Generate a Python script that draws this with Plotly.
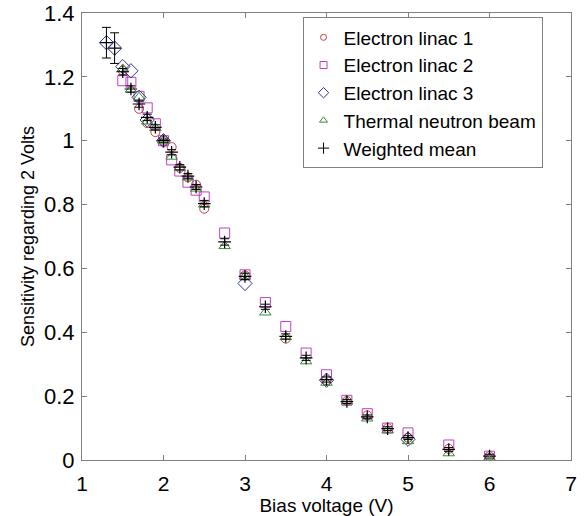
import plotly.graph_objects as go

# ---- data ----
x_lin1 = [1.5, 1.7, 1.8, 1.9, 2.0, 2.1, 2.2, 2.3, 2.4, 2.5, 3.0, 3.5, 4.0, 4.25, 4.5, 4.75, 5.0, 5.5, 6.0]
y_lin1 = [1.22, 1.10, 1.055, 1.027, 1.0, 0.98, 0.915, 0.885, 0.862, 0.787, 0.578, 0.38, 0.25, 0.185, 0.14, 0.10, 0.07, 0.035, 0.012]

x_lin2 = [1.5, 1.6, 1.7, 1.8, 1.9, 2.0, 2.1, 2.2, 2.3, 2.4, 2.5, 2.75, 3.0, 3.25, 3.5, 3.75, 4.0, 4.25, 4.5, 4.75, 5.0, 5.5, 6.0]
y_lin2 = [1.188, 1.183, 1.139, 1.103, 1.053, 1.0, 0.94, 0.905, 0.87, 0.845, 0.824, 0.711, 0.58, 0.493, 0.418, 0.335, 0.267, 0.187, 0.145, 0.10, 0.085, 0.047, 0.012]

x_lin3 = [1.3, 1.4, 1.5, 1.6, 1.7, 1.8, 2.0, 3.0, 4.0, 5.0]
y_lin3 = [1.307, 1.29, 1.232, 1.219, 1.136, 1.065, 1.0, 0.553, 0.25, 0.065]

x_therm = [1.5, 1.6, 1.7, 1.8, 1.9, 2.0, 2.1, 2.2, 2.3, 2.4, 2.5, 2.75, 3.0, 3.25, 3.5, 3.75, 4.0, 4.25, 4.5, 4.75, 5.0, 5.5, 6.0]
y_therm = [1.225, 1.16, 1.136, 1.06, 1.04, 1.0, 0.95, 0.915, 0.885, 0.85, 0.80, 0.67, 0.575, 0.462, 0.385, 0.309, 0.242, 0.183, 0.13, 0.093, 0.059, 0.021, 0.008]

x_mean = [1.3, 1.4, 1.5, 1.6, 1.7, 1.8, 1.9, 2.0, 2.1, 2.2, 2.3, 2.4, 2.5, 2.75, 3.0, 3.25, 3.5, 3.75, 4.0, 4.25, 4.5, 4.75, 5.0, 5.5, 6.0]
y_mean = [1.307, 1.29, 1.216, 1.162, 1.115, 1.073, 1.042, 1.0, 0.964, 0.917, 0.889, 0.855, 0.803, 0.683, 0.575, 0.48, 0.387, 0.32, 0.252, 0.183, 0.135, 0.098, 0.07, 0.033, 0.012]
err_mean = [0.048, 0.048, 0.01, 0.01, 0.01, 0.01, 0.008, 0.005, 0.008, 0.008, 0.008, 0.008, 0.01, 0.01, 0.01, 0.008, 0.008, 0.008, 0.008, 0.006, 0.006, 0.006, 0.006, 0.006, 0.006]

x_ticks = [1, 2, 3, 4, 5, 6, 7]
y_ticks = [0, 0.2, 0.4, 0.6, 0.8, 1.0, 1.2, 1.4]
y_ticklabels = ["0", "0.2", "0.4", "0.6", "0.8", "1", "1.2", "1.4"]

FONT = "Liberation Sans, Arial, sans-serif"

fig = go.Figure()

def add(name, xs, ys, symbol, color, size, legsize):
    # data marks
    fig.add_trace(go.Scatter(
        x=xs, y=ys, mode="markers", name=name, showlegend=False,
        marker=dict(symbol=symbol, size=size, color=color,
                    line=dict(color=color, width=1)),
    ))
    # legend entry (smaller symbol, as in the reference)
    fig.add_trace(go.Scatter(
        x=[None], y=[None], mode="markers", name=name, showlegend=True,
        marker=dict(symbol=symbol, size=legsize, color=color,
                    line=dict(color=color, width=1)),
    ))

add("Electron linac 1", x_lin1, y_lin1, "circle-open", "#c0404a", 9, 6)
add("Electron linac 2", x_lin2, y_lin2, "square-open", "#c040c0", 10, 7)
add("Electron linac 3", x_lin3, y_lin3, "diamond-open", "#303090", 11, 8)
add("Thermal neutron beam", x_therm, y_therm, "triangle-up-open", "#3a8a3a", 10, 7)

fig.add_trace(go.Scatter(
    x=x_mean, y=y_mean, mode="markers", name="Weighted mean", showlegend=False,
    marker=dict(symbol="cross-thin-open", size=9, color="black",
                line=dict(color="black", width=1.2)),
    error_y=dict(type="data", array=err_mean, visible=True,
                 color="black", thickness=1, width=4.5),
))
fig.add_trace(go.Scatter(
    x=[None], y=[None], mode="markers", name="Weighted mean", showlegend=True,
    marker=dict(symbol="cross-thin-open", size=8, color="black",
                line=dict(color="black", width=1)),
))

axis_common = dict(
    showgrid=False, zeroline=False, showline=True, linecolor="#808080",
    linewidth=1, mirror="ticks", ticks="inside", ticklen=5,
    tickcolor="#808080", automargin=False,
)

fig.update_layout(
    width=587, height=516,
    margin=dict(l=82, r=16, t=13, b=56),
    paper_bgcolor="white", plot_bgcolor="white",
    font=dict(family=FONT, color="black"),
    xaxis=dict(range=[1, 7], tickvals=x_ticks, ticklabelstandoff=5,
               tickfont=dict(family=FONT, size=21, color="black"),
               title=dict(text="Bias voltage (V)", font=dict(family=FONT, size=19), standoff=0),
               **axis_common),
    yaxis=dict(range=[0, 1.4], tickvals=y_ticks, ticktext=y_ticklabels, ticklabelstandoff=2,
               tickfont=dict(family=FONT, size=22, color="black"),
               title=dict(text="Sensitivity regarding 2 Volts", font=dict(family=FONT, size=18), standoff=4),
               **axis_common),
    legend=dict(x=0.451, y=0.99, xanchor="left", yanchor="top",
                bordercolor="#808080", borderwidth=1, bgcolor="white",
                font=dict(family=FONT, size=19, color="black"),
                itemwidth=30, entrywidth=228, entrywidthmode="pixels"),
    showlegend=True,
)

fig.write_html("out.html")
